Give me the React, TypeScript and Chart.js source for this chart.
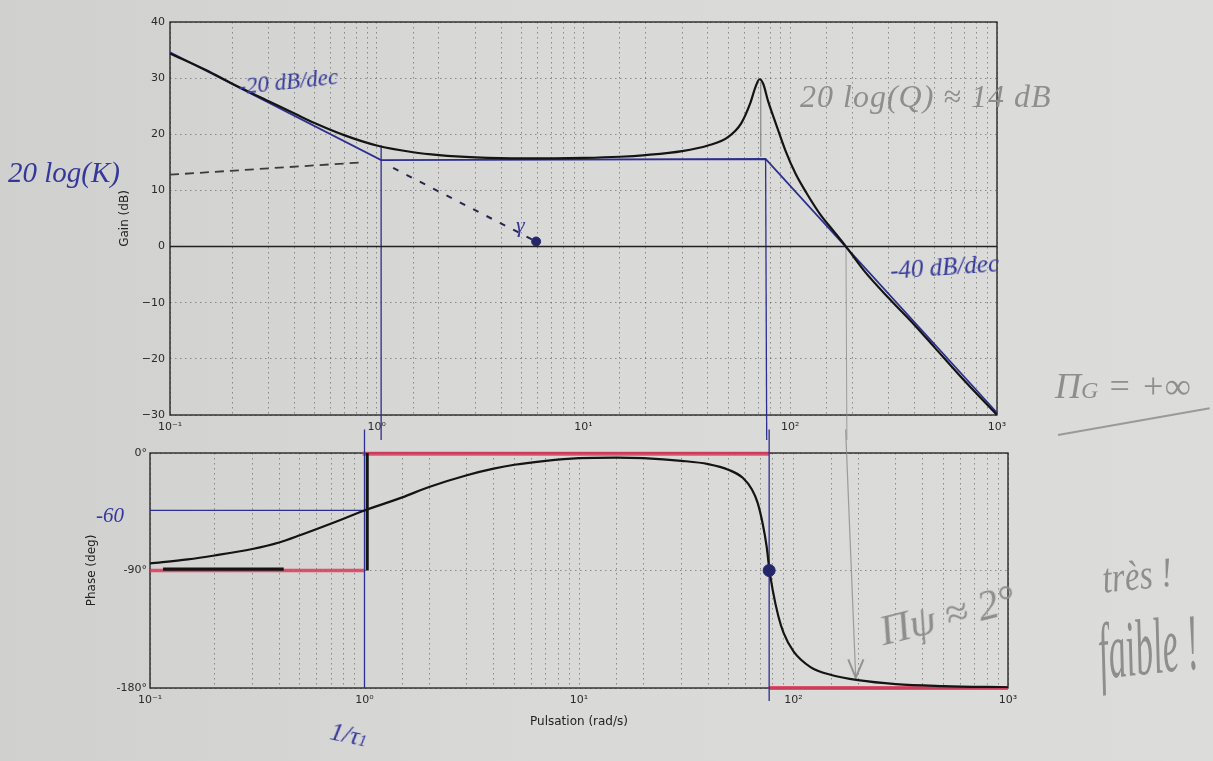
import React, { useEffect, useRef } from "react";
import { Chart, registerables } from "chart.js";

Chart.register(...registerables);

// ---------------- data ----------------
const decadeValues = [0.1, 1, 10, 100, 1000];
const decadeLabels = ["10⁻¹", "10⁰", "10¹", "10²", "10³"];

const gainTicks = [40, 30, 20, 10, 0, -10, -20, -30];
const gainTickLabels = ["40", "30", "20", "10", "0", "−10", "−20", "−30"];
const phaseTicks = [0, -90, -180];
const phaseTickLabels = ["0°", "-90°", "-180°"];

// gain curve (rad/s, dB)
const omegaGain = [0.1, 0.15, 0.2, 0.3, 0.4, 0.5, 0.7, 1, 1.5, 2, 3, 5, 10, 15, 20, 30, 40, 50, 58, 64, 68, 71, 74, 78, 85, 95, 106, 120, 141, 160, 186, 230, 300, 400, 500, 700, 1000];
const gainDb = [34.4, 31.4, 29, 25.9, 23.7, 22, 19.8, 18, 16.8, 16.3, 15.9, 15.7, 15.8, 16, 16.3, 17, 18, 19.5, 22, 25.5, 28.5, 29.8, 29, 26, 22, 17, 13, 9.5, 5.5, 3, 0, -4.5, -9.2, -14, -18, -24, -30];

// phase curve (rad/s, deg)
const omegaPhase = [0.1, 0.15, 0.2, 0.3, 0.4, 0.5, 0.7, 1, 1.5, 2, 3, 4, 5, 7, 10, 15, 20, 30, 40, 50, 58, 64, 68, 72, 75, 77, 80, 85, 90, 100, 120, 150, 200, 300, 500, 1000];
const phaseDeg = [-84.5, -81.5, -78.5, -73.5, -68.5, -63, -54, -44, -34, -26, -17, -12, -9, -6, -4, -3.5, -4, -6, -8.5, -13, -19, -28, -38, -55, -72, -88, -105, -125, -138, -152, -164, -170, -174, -177, -178.5, -179.5];

// gain asymptotes and hand-drawn marks
const asymGainX = [0.1, 1.05, 76, 1000];
const asymGainY = [34.6, 15.4, 15.6, -29.6];
const zeroLineX = [0.1, 1000];
const zeroLineY = [0, 0];
const kDashX = [0.1, 0.85];
const kDashY = [12.8, 15];
const gammaDashX = [1.2, 5.9];
const gammaDashY = [14, 0.9];
const gammaPointX = [5.9];
const gammaPointY = [0.9];
const corner1GainX = [1.05, 1.05];
const corner1GainY = [18, -38];
const corner2GainX = [76, 77];
const corner2GainY = [15.6, -38];
const peakArrowX = [72, 72];
const peakArrowY = [16, 29.3];
const crossGainX = [186, 188];
const crossGainY = [0, -36];

// phase asymptotes and hand-drawn marks
const redLowX = [0.1, 1];
const redLowY = [-90, -90];
const redMidX = [0.98, 77];
const redMidY = [-0.5, -0.5];
const redHighX = [77, 1000];
const redHighY = [-180, -180];
const jumpX = [1.03, 1.03];
const jumpY = [-90, 0];
const boldLowX = [0.115, 0.42];
const boldLowY = [-89, -89];
const blueHorizX = [0.1, 1.0];
const blueHorizY = [-44, -44];
const blueV1X = [1.0, 1.0];
const blueV1Y = [18, -180];
const blueV2X = [77, 77];
const blueV2Y = [18, -190];
const phaseDotX = [77];
const phaseDotY = [-90];
const crossPhaseX = [175, 195];
const crossPhaseY = [18, -172];
const arrowHeadX = [180, 195, 212];
const arrowHeadY = [-158, -172, -158];

// ---------------- helpers ----------------
const pts = (xs: number[], ys: number[]) => xs.map((x, i) => ({ x, y: ys[i] }));

const BLACK = "#141414";
const BLUE = "#2d2f8e";
const RED = "rgba(221,58,92,0.85)";
const GRAY = "rgba(120,120,120,0.85)";
const FONT = "'DejaVu Sans', sans-serif";

const line = (xs: number[], ys: number[], color: string, width: number, extra: any = {}) => ({
  data: pts(xs, ys),
  borderColor: color,
  backgroundColor: color,
  borderWidth: width,
  pointRadius: 0,
  fill: false,
  tension: 0,
  ...extra,
});

const decadeLabel = (v: number) => {
  const i = decadeValues.findIndex((d) => Math.abs(Math.log10(v) - Math.log10(d)) < 1e-6);
  return i >= 0 ? decadeLabels[i] : "";
};

const framePlugin = {
  id: "frame",
  beforeDatasetsDraw(chart: any) {
    const { ctx, chartArea } = chart;
    ctx.save();
    ctx.strokeStyle = "#1c1c1c";
    ctx.lineWidth = 1.3;
    ctx.setLineDash([]);
    ctx.strokeRect(chartArea.left, chartArea.top, chartArea.right - chartArea.left, chartArea.bottom - chartArea.top);
    ctx.restore();
  },
};

const gridOpts = { color: "rgba(60,60,60,0.5)", lineWidth: 1, drawTicks: false };
const borderOpts = { display: false, dash: [1.5, 3.5] };
const tickFont = { family: FONT, size: 11 };

const xAxis = (height: number, title?: string) => ({
  type: "logarithmic",
  min: 0.1,
  max: 1000,
  ticks: {
    autoSkip: false,
    maxRotation: 0,
    minRotation: 0,
    padding: 6,
    color: "#2a2a2a",
    font: tickFont,
    callback: (v: any) => decadeLabel(Number(v)),
  },
  grid: gridOpts,
  border: borderOpts,
  title: title
    ? { display: true, text: title, color: "#222", font: { family: FONT, size: 12 }, padding: { top: 0, bottom: 7 } }
    : { display: false },
  afterFit: (s: any) => {
    s.height = height;
  },
});

export default function App() {
  const gainRef = useRef<HTMLCanvasElement | null>(null);
  const phaseRef = useRef<HTMLCanvasElement | null>(null);

  useEffect(() => {
    if (!gainRef.current || !phaseRef.current) return;

    const gainChart = new Chart(gainRef.current, {
      type: "line",
      data: {
        datasets: [
          line(omegaGain, gainDb, BLACK, 2.2, { cubicInterpolationMode: "monotone" }),
          line(asymGainX, asymGainY, BLUE, 1.8),
          line(zeroLineX, zeroLineY, "#222", 1.6),
          line(kDashX, kDashY, "#3b3b3b", 1.8, { borderDash: [9, 6] }),
          line(gammaDashX, gammaDashY, "#24264f", 2, { borderDash: [6, 9] }),
          line(gammaPointX, gammaPointY, BLUE, 1, { pointRadius: 4.5, pointBackgroundColor: "#25276a", pointBorderColor: "#25276a" }),
          line(corner1GainX, corner1GainY, BLUE, 1.3, { clip: false }),
          line(corner2GainX, corner2GainY, BLUE, 1.3, { clip: false }),
          line(peakArrowX, peakArrowY, GRAY, 1.2),
          line(crossGainX, crossGainY, "rgba(140,140,140,0.8)", 1, { clip: false }),
        ] as any,
      },
      options: {
        animation: false,
        responsive: true,
        maintainAspectRatio: false,
        layout: { padding: { left: 118, right: 216, top: 22, bottom: 0 } },
        plugins: { legend: { display: false }, tooltip: { enabled: false } },
        scales: {
          x: xAxis(25) as any,
          y: {
            min: -30,
            max: 40,
            ticks: {
              stepSize: 10,
              padding: 5,
              color: "#2a2a2a",
              font: tickFont,
              callback: (v: any) => {
                const i = gainTicks.indexOf(Number(v));
                return i >= 0 ? gainTickLabels[i] : "";
              },
            },
            grid: gridOpts,
            border: borderOpts,
            title: { display: true, text: "Gain (dB)", color: "#222", font: { family: FONT, size: 12 }, padding: 0 },
            afterFit: (s: any) => {
              s.width = 52;
            },
          } as any,
        },
      },
      plugins: [framePlugin],
    });

    const phaseChart = new Chart(phaseRef.current, {
      type: "line",
      data: {
        datasets: [
          line(phaseDotX, phaseDotY, BLUE, 1, { pointRadius: 6, pointBackgroundColor: "#24266b", pointBorderColor: "#24266b" }),
          line(omegaPhase, phaseDeg, BLACK, 2.2, { cubicInterpolationMode: "monotone" }),
          line(jumpX, jumpY, BLACK, 3),
          line(boldLowX, boldLowY, BLACK, 3.2),
          line(blueHorizX, blueHorizY, BLUE, 1.3),
          line(blueV1X, blueV1Y, BLUE, 1.3, { clip: false }),
          line(blueV2X, blueV2Y, BLUE, 1.3, { clip: false }),
          line(redLowX, redLowY, RED, 3.5),
          line(redMidX, redMidY, RED, 4, { clip: false }),
          line(redHighX, redHighY, RED, 4, { clip: false }),
          line(crossPhaseX, crossPhaseY, "rgba(140,140,140,0.8)", 1.2, { clip: false }),
          line(arrowHeadX, arrowHeadY, "rgba(140,140,140,0.9)", 2),
        ] as any,
      },
      options: {
        animation: false,
        responsive: true,
        maintainAspectRatio: false,
        layout: { padding: { left: 85, right: 205, top: 28, bottom: 25 } },
        plugins: { legend: { display: false }, tooltip: { enabled: false } },
        scales: {
          x: xAxis(48, "Pulsation (rad/s)") as any,
          y: {
            min: -180,
            max: 0,
            ticks: {
              stepSize: 90,
              padding: 3,
              color: "#2a2a2a",
              font: tickFont,
              callback: (v: any) => {
                const i = phaseTicks.indexOf(Number(v));
                return i >= 0 ? phaseTickLabels[i] : "";
              },
            },
            grid: gridOpts,
            border: borderOpts,
            title: { display: true, text: "Phase (deg)", color: "#222", font: { family: FONT, size: 12 }, padding: 0 },
            afterFit: (s: any) => {
              s.width = 65;
            },
          } as any,
        },
      },
      plugins: [framePlugin],
    });

    return () => {
      gainChart.destroy();
      phaseChart.destroy();
    };
  }, []);

  const hand = "'Liberation Serif', serif";
  const ink = "#34389a";
  const pencil = "#8e8e8e";
  const note = (extra: React.CSSProperties): React.CSSProperties => ({
    position: "absolute",
    whiteSpace: "nowrap",
    pointerEvents: "none",
    fontFamily: hand,
    fontStyle: "italic",
    lineHeight: 1,
    ...extra,
  });

  return (
    <div
      style={{
        position: "absolute",
        left: 0,
        top: 0,
        width: 1213,
        height: 761,
        overflow: "hidden",
        background: "linear-gradient(90deg, #d0d0ce 0%, #d9d9d7 45%, #dcdcda 100%)",
      }}
    >
      <div style={{ position: "absolute", left: 0, top: 0, width: 1213, height: 440 }}>
        <canvas ref={gainRef} />
      </div>
      <div style={{ position: "absolute", left: 0, top: 425, width: 1213, height: 336 }}>
        <canvas ref={phaseRef} />
      </div>

      <div style={note({ left: 238, top: 70, fontSize: 23, color: ink, transform: "rotate(-6deg)" })}>-20 dB/dec</div>
      <div style={note({ left: 800, top: 80, fontSize: 32, color: pencil, letterSpacing: 1 })}>20 log(Q) ≈ 14 dB</div>
      <div style={note({ left: 890, top: 254, fontSize: 25, color: ink, transform: "rotate(-4deg)" })}>-40 dB/dec</div>
      <div style={note({ left: 8, top: 158, fontSize: 29, color: ink })}>20 log(K)</div>
      <div style={note({ left: 516, top: 214, fontSize: 22, color: ink })}>γ</div>
      <div style={note({ left: 1055, top: 368, fontSize: 36, color: pencil })}>
        Π<span style={{ fontSize: 24 }}>G</span> = +∞
      </div>
      <div
        style={{
          position: "absolute",
          left: 1058,
          top: 434,
          width: 154,
          borderTop: "2px solid #9a9a9a",
          transform: "rotate(-10deg)",
          transformOrigin: "left center",
        }}
      />
      <div style={note({ left: 96, top: 505, fontSize: 21, color: ink })}>-60</div>
      <div style={note({ left: 330, top: 722, fontSize: 26, color: ink, transform: "rotate(12deg)" })}>
        1/τ<span style={{ fontSize: 16 }}>1</span>
      </div>
      <div style={note({ left: 878, top: 594, fontSize: 42, color: pencil, transform: "rotate(-14deg)" })}>Πψ ≈ 2°</div>
      <div style={note({ left: 1100, top: 558, fontSize: 42, color: pencil, transform: "rotate(-6deg) scaleX(0.8)", transformOrigin: "left top" })}>très !</div>
      <div style={note({ left: 1094, top: 612, fontSize: 50, color: pencil, transform: "rotate(-6deg) scaleX(0.7) scaleY(1.6)", transformOrigin: "left top" })}>faible !</div>
    </div>
  );
}
